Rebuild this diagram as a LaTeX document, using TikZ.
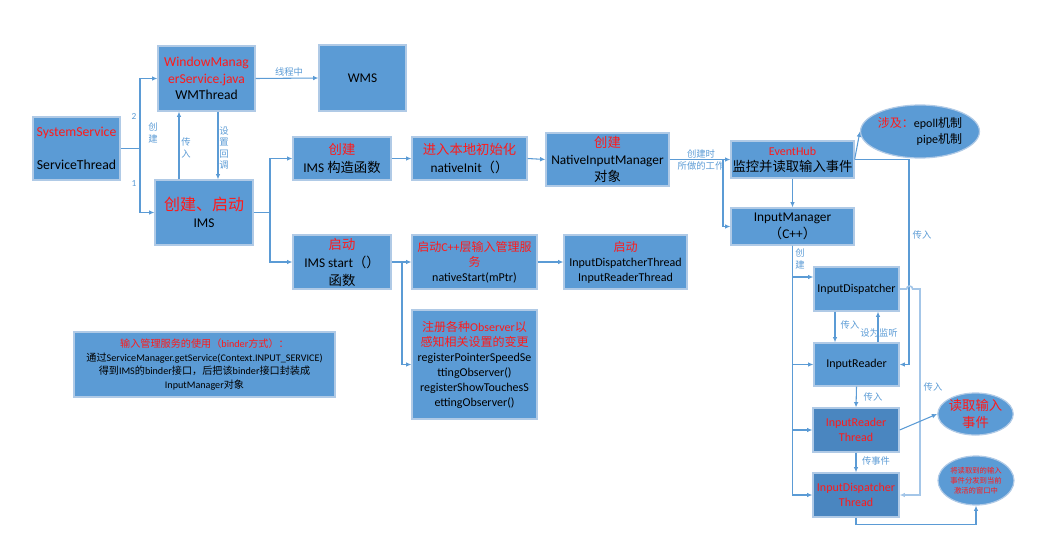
\documentclass[tikz,border=0pt]{standalone}
\usepackage{fontspec}
\usepackage{tikz}
\usetikzlibrary{arrows.meta,calc,shapes.geometric}
\setmainfont{Carlito}
\newfontfamily\cjk{Noto Sans CJK SC}
\newcommand\zh[1]{{\cjk #1}}
\newcommand\fsz[2]{\fontsize{#1}{#2}\selectfont}
\definecolor{boxblue}{HTML}{5B9BD5}
\definecolor{darkblue}{HTML}{4A86C0}
\definecolor{boxline}{HTML}{B0CAE6}
\definecolor{lineblue}{HTML}{5B9BD5}
\definecolor{lightline}{HTML}{A4C6E8}
\definecolor{titlered}{HTML}{FF1A1A}
\newcommand\rd{\color{titlered}}
\newcommand\bk{\color{black}}

\begin{document}
\begin{tikzpicture}[x=0.75pt, y=-0.75pt,
	box/.style={draw=boxline, fill=boxblue, line width=0.9pt, inner sep=1pt, align=center, font=\fsz{10}{12}},
	darkbox/.style={box, fill=darkblue},
	bubble/.style={ellipse, draw=boxline, fill=boxblue, line width=0.9pt, inner sep=0pt, align=center},
	arr/.style={draw=lineblue, line width=0.8pt, -{Latex[length=4pt,width=3.5pt]}},
	lightarr/.style={draw=lightline, line width=1.2pt, -{Latex[length=4pt,width=3.5pt]}},
	lbl/.style={text=lineblue, font=\fsz{7}{8.5}, inner sep=0pt, align=center}]
	\useasboundingbox (0,0) rectangle (1037,542);

	% left part
	\node[box, minimum width=65.25pt, minimum height=47.25pt, font=\fsz{10.3}{12.5}] (sys) at (76.5,148.5) {\rd SystemService\\[12pt]\bk ServiceThread};
	\node[box, minimum width=72.75pt, minimum height=48.75pt, font=\fsz{10.2}{12.3}] (wm) at (206.5,78.5) {\rd WindowManag\\\rd erService.java\\\bk WMThread};
	\node[box, minimum width=73.5pt, minimum height=48.75pt, font=\fsz{10}{13}] (ims) at (204,212.5) {\rd\fsz{12}{14}\zh{创建、启动}\\\bk\fsz{10}{12}IMS};
	\node[box, minimum width=65.25pt, minimum height=49.5pt] (wms) at (362.5,78) {WMS};
	\node[box, minimum width=195.75pt, minimum height=48.75pt, font=\fsz{7.6}{10.3}] (note) at (204.5,364.5) {\rd\zh{输入管理服务的使用（}binder\zh{方式）：}\\\bk\zh{通过}ServiceManager.getService(Context.INPUT\_SERVICE)\\\zh{得到}IMS\zh{的}binder\zh{接口，后把该}binder\zh{接口封装成}\\InputManager\zh{对象}};

	% middle part
	\node[box, minimum width=73.5pt, minimum height=32.25pt, font=\fsz{10}{13}] (ctor) at (342,158.5) {\rd\zh{创建}\\\bk IMS \zh{构造函数}};
	\node[box, minimum width=86.25pt, minimum height=32.25pt, font=\fsz{10}{13}] (ninit) at (469.5,158.5) {\rd\zh{进入本地初始化}\\\bk nativeInit\zh{（）}};
	\node[box, minimum width=92.25pt, minimum height=39.75pt, font=\fsz{10}{13}] (nim) at (607.5,159.5) {\rd\zh{创建}\\\bk NativeInputManager\\\zh{对象}};
	\node[box, minimum width=73.5pt, minimum height=40.5pt, font=\fsz{10}{13.5}] (start) at (342,262) {\rd\zh{启动}\\\bk IMS start\zh{（）}\\\zh{函数}};
	\node[box, minimum width=93.75pt, minimum height=40.5pt, font=\fsz{9}{11.3}] (cstart) at (474.5,262) {\rd\zh{启动}C++\zh{层输入管理服}\\\rd\zh{务}\\\bk nativeStart(mPtr)};
	\node[box, minimum width=92.25pt, minimum height=40.5pt, font=\fsz{9}{11.3}] (threads) at (625.5,262) {\rd\zh{启动}\\\bk InputDispatcherThread\\InputReaderThread};
	\node[box, minimum width=93.75pt, minimum height=81.75pt, font=\fsz{9}{11.25}] (obs) at (474.5,364.5) {\rd\zh{注册各种}Observer\zh{以}\\\rd\zh{感知相关设置的变更}\\\bk registerPointerSpeedSe\\ttingObserver()\\registerShowTouchesS\\ettingObserver()};

	% right part
	\node[box, minimum width=92.25pt, minimum height=27.75pt, font=\fsz{10}{12}] (hub) at (792.5,159.5) {\rd\fsz{9}{11}EventHub\\\bk\fsz{10}{12}\zh{监控并读取输入事件}};
	\node[bubble, minimum width=79.5pt, minimum height=39.75pt, font=\fsz{9}{12}, align=right] (epoll) at (920,131.5) {{\rd\zh{涉及：}}epoll\zh{机制}\\pipe\zh{机制}};
	\node[box, minimum width=92.25pt, minimum height=27.75pt, font=\fsz{10}{12.5}] (imgr) at (792.5,226.5) {InputManager\\\zh{（}C++\zh{）}};
	\node[box, minimum width=63.75pt, minimum height=33pt, font=\fsz{9}{11}] (disp) at (856.5,289) {InputDispatcher};
	\node[box, minimum width=63.75pt, minimum height=32.25pt, font=\fsz{9}{11}] (reader) at (856.5,364.5) {InputReader};
	\node[darkbox, minimum width=64.5pt, minimum height=33pt, font=\fsz{9}{11}, text=titlered] (rthread) at (856,430) {InputReader\\Thread};
	\node[darkbox, minimum width=64.5pt, minimum height=33pt, font=\fsz{9}{11}, text=titlered] (dthread) at (856,495) {InputDispatcher\\Thread};
	\node[bubble, minimum width=56.25pt, minimum height=31.5pt, font=\fsz{10}{12.5}, text=titlered] (readev) at (975.5,414) {\zh{读取输入}\\\zh{事件}};
	\node[bubble, minimum width=57pt, minimum height=36.75pt, font=\fsz{5.5}{7.5}, text=titlered] (dispev) at (976,480.5) {\zh{将读取到的输入}\\\zh{事件分发到当前}\\\zh{激活的窗口中}};

	% junctions
	\coordinate (j1) at (140,148.5);
	\coordinate (j2) at (270,212.5);
	\coordinate (j3) at (723,159.5);
	\coordinate (j4) at (909,159.5);
	\coordinate (j5) at (920,289);
	\coordinate (j7) at (402,262);

	% connectors
	\draw[arr] (sys.east) -- (j1) |- (wm.west);
	\draw[arr] (j1) |- (ims.west);
	\draw[arr] ($(ims.north)+(-25,0)$) -- ($(wm.south)+(-27.5,0)$);
	\draw[arr] ($(wm.south)+(11.5,0)$) -- ($(ims.north)+(14,0)$);
	\draw[arr] (wm.east) -- (wms.west);
	\draw[arr] (ims.east) -- (j2) |- (ctor.west);
	\draw[arr] (j2) |- (start.west);
	\draw[arr] (ctor.east) -- (ninit.west);
	\draw[arr] (ninit.east) -- (nim.west);
	\draw[arr] (nim.east) -- (hub.west);
	\draw[arr] (j3) |- (imgr.west);
	\draw[arr] (hub.east) -- (epoll.west);
	\draw[arr] (hub.south) -- (imgr.north);
	\draw[arr] (hub.east) -- (j4) |- (reader.east);
	\draw[lightarr] (disp.east) -- ++(7,0) arc[start angle=180, end angle=0, radius=2.25pt] -- (j5) |- (dthread.east);
	\draw[arr] (imgr.south) |- ($(disp.west)+(0,-12)$);
	\draw[arr] (imgr.south) |- (reader.west);
	\draw[arr] (imgr.south) |- (rthread.west);
	\draw[arr] (imgr.south) |- (dthread.west);
	\draw[arr] ($(disp.south)+(-21.5,0)$) -- ($(reader.north)+(-21.5,0)$);
	\draw[arr] ($(reader.north)+(21.5,0)$) -- ($(disp.south)+(21.5,0)$);
	\draw[arr] (reader.south) -- (rthread.north);
	\draw[arr] (rthread.south) -- (dthread.north);
	\draw[arr] (rthread.east) -- (readev.west);
	\draw[arr] (dthread.south) -- ++(0,7) -| (dispev.south);
	\draw[arr] (start.east) -- (cstart.west);
	\draw[arr] (j7) |- (obs.west);
	\draw[arr] (cstart.east) -- (threads.west);

	% connector labels
	\node[lbl] (l2) at (134,116) {2};
	\node[lbl] (l1) at (134,183) {1};
	\node[lbl] (lcreate) at (153,133) {\zh{创}\\\zh{建}};
	\node[lbl] (lpass) at (186,148) {\zh{传}\\\zh{入}};
	\node[lbl] (lcallback) at (224,148) {\zh{设}\\\zh{置}\\\zh{回}\\\zh{调}};
	\node[lbl] (lthread) at (289,72) {\zh{线程中}};
	\node[lbl] (lwork) at (701,160) {\zh{创建时}\\\zh{所做的工作}};
	\node[lbl] (lcreate2) at (800,259) {\zh{创}\\\zh{建}};
	\node[lbl] (lpass2) at (850,325) {\zh{传入}};
	\node[lbl] (llisten) at (879,333) {\zh{设为监听}};
	\node[lbl] (lpass3) at (922,235) {\zh{传入}};
	\node[lbl] (lpass4) at (933,387) {\zh{传入}};
	\node[lbl] (lpass5) at (873,397) {\zh{传入}};
	\node[lbl] (levent) at (876,461) {\zh{传事件}};
\end{tikzpicture}
\end{document}
